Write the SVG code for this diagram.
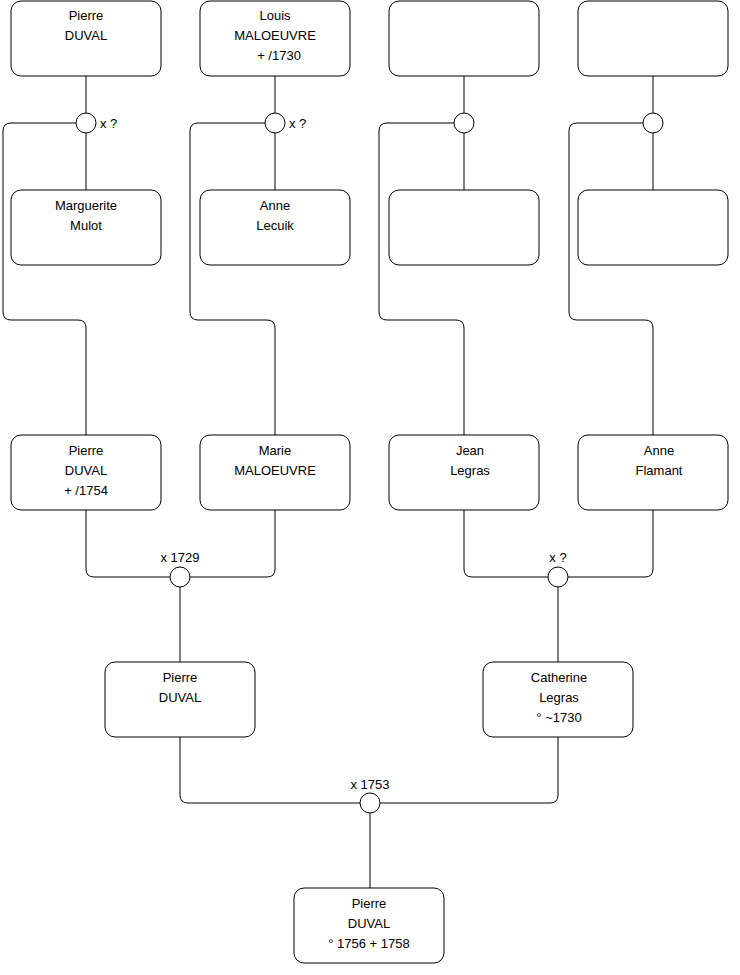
<svg xmlns="http://www.w3.org/2000/svg" width="740" height="975" viewBox="0 0 740 975">
<style>
.box{fill:#fff;stroke:#000;stroke-width:1}
.c{fill:#fff;stroke:#000;stroke-width:1}
.ln{fill:none;stroke:#000;stroke-width:1}
text{font-family:"Liberation Sans",Arial,sans-serif;font-size:13px;fill:#000}
.m{text-anchor:middle}
</style>
<rect width="740" height="975" fill="#fff"/>
<g id="connectors">
<path class="ln" d="M86 76V113M86 133V190M76 123H11Q3 123 3 131V312Q3 320 11 320H78Q86 320 86 328V435"/>
<path class="ln" d="M275 76V113M275 133V190M265 123H198Q190 123 190 131V312Q190 320 198 320H267Q275 320 275 328V435"/>
<path class="ln" d="M464 76V113M464 133V190M454 123H387Q379 123 379 131V312Q379 320 387 320H456Q464 320 464 328V435"/>
<path class="ln" d="M653 76V113M653 133V190M643 123H577Q569 123 569 131V312Q569 320 577 320H645Q653 320 653 328V435"/>
<path class="ln" d="M86 510V569Q86 577 94 577H170M190 577H267Q275 577 275 569V510M180 587V662"/>
<path class="ln" d="M464 510V569Q464 577 472 577H548M568 577H645Q653 577 653 569V510M558 587V662"/>
<path class="ln" d="M180 737V795Q180 803 188 803H360M380 803H550Q558 803 558 795V737M370 813V888"/>
<circle class="c" cx="86" cy="123" r="10"/>
<circle class="c" cx="275" cy="123" r="10"/>
<circle class="c" cx="464" cy="123" r="10"/>
<circle class="c" cx="653" cy="123" r="10"/>
<circle class="c" cx="180" cy="577" r="10"/>
<circle class="c" cx="558" cy="577" r="10"/>
<circle class="c" cx="370" cy="803" r="10"/>
<text x="100" y="128">x ?</text>
<text x="289" y="128">x ?</text>
<text class="m" x="180" y="562">x 1729</text>
<text class="m" x="558" y="562">x ?</text>
<text class="m" x="370" y="789">x 1753</text>
</g>
<g id="n1"><rect class="box" x="11" y="1" width="150" height="75" rx="10"/><text class="m" x="86" y="20">Pierre</text><text class="m" x="86" y="40">DUVAL</text></g>
<g id="n2"><rect class="box" x="200" y="1" width="150" height="75" rx="10"/><text class="m" x="275" y="20">Louis</text><text class="m" x="275" y="40">MALOEUVRE</text><text class="m" x="279" y="60">+ /1730</text></g>
<g id="n3"><rect class="box" x="389" y="1" width="150" height="75" rx="10"/></g>
<g id="n4"><rect class="box" x="578" y="1" width="150" height="75" rx="10"/></g>
<g id="n5"><rect class="box" x="11" y="190" width="150" height="75" rx="10"/><text class="m" x="86" y="210">Marguerite</text><text class="m" x="86" y="230">Mulot</text></g>
<g id="n6"><rect class="box" x="200" y="190" width="150" height="75" rx="10"/><text class="m" x="275" y="210">Anne</text><text class="m" x="275" y="230">Lecuik</text></g>
<g id="n7"><rect class="box" x="389" y="190" width="150" height="75" rx="10"/></g>
<g id="n8"><rect class="box" x="578" y="190" width="150" height="75" rx="10"/></g>
<g id="n9"><rect class="box" x="11" y="435" width="150" height="75" rx="10"/><text class="m" x="86" y="455">Pierre</text><text class="m" x="86" y="475">DUVAL</text><text class="m" x="86" y="495">+ /1754</text></g>
<g id="n10"><rect class="box" x="200" y="435" width="150" height="75" rx="10"/><text class="m" x="275" y="455">Marie</text><text class="m" x="275" y="475">MALOEUVRE</text></g>
<g id="n11"><rect class="box" x="389" y="435" width="150" height="75" rx="10"/><text class="m" x="470" y="455">Jean</text><text class="m" x="470" y="475">Legras</text></g>
<g id="n12"><rect class="box" x="578" y="435" width="150" height="75" rx="10"/><text class="m" x="659" y="455">Anne</text><text class="m" x="659" y="475">Flamant</text></g>
<g id="n13"><rect class="box" x="105" y="662" width="150" height="75" rx="10"/><text class="m" x="180" y="682">Pierre</text><text class="m" x="180" y="702">DUVAL</text></g>
<g id="n14"><rect class="box" x="483" y="662" width="150" height="75" rx="10"/><text class="m" x="559" y="682">Catherine</text><text class="m" x="559" y="702">Legras</text><text class="m" x="559" y="722">° ~1730</text></g>
<g id="n15"><rect class="box" x="294" y="888" width="150" height="75" rx="10"/><text class="m" x="369" y="908">Pierre</text><text class="m" x="369" y="928">DUVAL</text><text class="m" x="369" y="948">° 1756 + 1758</text></g>
</svg>
